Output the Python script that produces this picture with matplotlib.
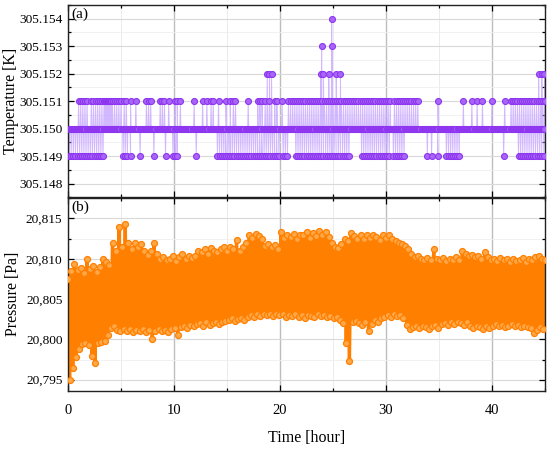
import numpy as np
import matplotlib
matplotlib.use('Agg')
import matplotlib.pyplot as plt
from matplotlib.ticker import MultipleLocator, FuncFormatter, FormatStrFormatter

plt.rcParams['font.family'] = ['Liberation Serif', 'DejaVu Serif']

# ---------------- data ----------------
# (a) temperature: baseline level and excursion times (hours) per level
T_BASE = 305.150
T_BASE_STEP = 0.1          # sampling step of baseline readings [h]
T_END = 45.0

t149 = [0.1, 0.3, 0.5, 0.7, 0.9, 1.1, 1.3, 1.5, 1.7, 1.9, 2.1, 2.3, 2.5, 2.7, 2.9, 3.1, 3.3,
        5.2, 5.4, 5.6, 5.9, 6.8, 8.1, 9.2, 9.9, 10.1, 10.3, 12.1,
        14.1, 14.3, 14.5, 14.7, 14.9, 15.1, 15.3, 15.5, 15.7, 15.9, 16.1, 16.3, 16.5, 16.7,
        16.9, 17.1, 17.3, 17.5, 17.7, 17.9, 18.1, 18.3, 18.5, 18.7, 18.9, 19.1, 19.3, 19.5,
        19.7, 19.9, 20.3, 20.5, 20.7,
        21.5, 21.7, 21.9, 22.1, 22.3, 22.5, 22.7, 22.9, 23.1, 23.3, 23.5, 23.7, 23.9, 24.1,
        24.3, 24.5, 24.7, 24.9, 25.1, 25.3, 25.5, 25.7, 25.9, 26.1, 26.3, 26.5,
        27.7, 27.9, 28.1, 28.3, 28.5, 28.7, 28.9, 29.1, 29.3, 29.5, 29.7, 29.9, 30.1, 30.3,
        30.7, 30.9, 31.1, 31.3, 31.5, 31.7,
        33.9, 34.3, 34.9, 35.7, 35.9, 36.1, 36.3, 36.5, 36.7, 36.9, 41.1,
        42.5, 42.7, 42.9, 43.1, 43.3, 43.5, 43.7, 43.9, 44.1, 44.3, 44.5, 44.7, 44.9]

t151 = [1.0, 1.2, 1.4, 1.6, 1.8, 2.2, 2.4, 2.6, 2.8, 3.0, 3.2, 3.4, 3.5, 3.6, 3.7, 3.8, 3.9,
        4.0, 4.1, 4.2, 4.4, 4.6, 4.8, 5.0, 5.3, 5.5, 5.9, 6.4, 7.4, 7.6, 7.8, 8.7, 8.9, 9.1,
        9.5, 10.1, 10.3, 10.6,
        11.9, 12.7, 13.1, 13.5, 13.7, 14.2, 14.9, 15.3, 15.6, 15.8, 17.0, 17.9, 18.1, 18.3,
        18.6, 19.0, 19.5, 19.7, 20.2,
        20.8, 21.0, 21.2, 21.4, 21.6, 21.8, 22.0, 22.2, 22.4, 22.6, 22.8, 23.0, 23.2, 23.4,
        23.6, 23.8, 24.0, 24.2, 24.4, 24.6, 24.8, 25.0, 25.2, 25.4, 25.6, 25.8, 26.0, 26.2,
        26.4, 26.6, 26.8, 27.0, 27.2, 27.4, 27.6, 27.8, 28.0, 28.2, 28.4, 28.6, 28.8, 29.0,
        29.2, 29.4, 29.6, 29.8, 30.0, 30.2, 30.4,
        30.8, 31.0, 31.2, 31.4, 31.6, 31.8, 32.0, 32.2, 32.4, 32.6, 32.8, 33.0,
        34.9, 37.3, 38.1, 38.6, 39.1, 40.0, 41.2,
        41.8, 42.0, 42.2, 42.4, 42.6, 42.8, 43.0, 43.2, 43.4, 43.6, 43.8, 44.0, 44.2, 44.4,
        44.6, 44.8, 45.0]

t152 = [18.8, 19.0, 19.2, 23.85, 24.1, 24.6, 25.3, 25.7, 44.4, 44.7, 44.95]
t153 = [23.93, 24.93]
t154 = [24.88]

# (b) pressure: alternating upper / lower readings
P_STEP = 0.3   # hours between successive upper readings
p_hi = [20807.5, 20808.5, 20809.3, 20808.6, 20808.9, 20808.2, 20810.0, 20808.7, 20809.1, 20808.4,
        20809.0, 20810.0, 20809.6, 20809.2, 20812.0, 20811.0, 20814.0, 20811.5, 20814.3, 20812.0,
        20811.2, 20812.0, 20811.4, 20811.8, 20811.0, 20810.5, 20811.0, 20812.0, 20810.6, 20810.0,
        20810.2, 20809.8, 20810.0, 20810.4, 20809.7, 20810.2, 20810.6, 20810.0, 20810.4, 20810.1,
        20810.3, 20811.0, 20810.8, 20811.2, 20810.6, 20811.3, 20811.0, 20810.8, 20811.2, 20811.4,
        20811.0, 20811.4, 20811.2, 20812.3, 20811.0, 20811.5, 20812.0, 20813.0, 20812.6, 20813.1,
        20812.8, 20812.4, 20811.6, 20811.8, 20811.4, 20811.7, 20811.2, 20813.3, 20812.6, 20813.0,
        20812.7, 20813.1, 20812.5, 20812.9, 20813.0, 20813.3, 20812.6, 20813.2, 20812.8, 20813.4,
        20813.0, 20813.3, 20812.7, 20812.0, 20811.5, 20811.3, 20811.8, 20812.5, 20812.2, 20813.2,
        20812.8, 20812.5, 20813.0, 20812.4, 20812.9, 20812.6, 20813.0, 20812.7, 20812.3, 20812.9,
        20812.6, 20813.0, 20812.4, 20812.2, 20812.0, 20811.8, 20811.6, 20811.2, 20810.6, 20810.2,
        20810.4, 20810.0, 20809.8, 20810.1, 20809.9, 20811.2, 20810.0, 20809.8, 20810.1, 20809.7,
        20810.0, 20809.8, 20810.2, 20809.9, 20811.0, 20810.6, 20810.4, 20810.5, 20810.2, 20810.4,
        20810.0, 20810.8, 20810.2, 20809.8, 20810.0, 20809.7, 20810.1, 20809.8, 20810.0, 20809.6,
        20810.0, 20809.7, 20809.9, 20810.1, 20809.6, 20810.0, 20809.8, 20810.2, 20810.4, 20810.0,
        20809.8]
p_lo = [20795.0, 20796.5, 20797.8, 20798.8, 20799.4, 20799.6, 20799.3, 20797.9, 20797.1, 20799.6,
        20799.7, 20799.8, 20800.5, 20801.4, 20801.6, 20801.2, 20801.0, 20801.3, 20801.0, 20801.3,
        20800.9, 20801.2, 20801.0, 20801.3, 20800.9, 20801.2, 20800.0, 20801.0, 20801.3, 20801.1,
        20801.2, 20800.9, 20801.3, 20801.4, 20800.6, 20801.5, 20801.7, 20801.4, 20801.8, 20801.6,
        20801.9, 20802.0, 20801.7, 20802.1, 20801.8, 20802.0, 20802.2, 20801.9, 20802.1, 20802.3,
        20802.4, 20802.6, 20802.3, 20802.5, 20802.7, 20802.4, 20802.8, 20803.0, 20802.8, 20803.1,
        20802.9, 20803.2, 20803.0, 20803.1, 20802.9, 20803.2, 20803.0, 20803.1, 20802.8, 20803.0,
        20802.9, 20803.1, 20802.8, 20803.0, 20802.7, 20803.0, 20802.9, 20802.8, 20803.1, 20802.9,
        20803.0, 20802.8, 20802.9, 20802.6, 20802.8, 20802.4, 20802.0, 20799.5, 20797.3, 20802.2,
        20802.3, 20802.0, 20801.8, 20802.2, 20801.0, 20801.9, 20802.4, 20802.1, 20802.6, 20802.8,
        20803.0, 20802.8, 20803.1, 20802.9, 20803.0, 20802.6, 20801.8, 20801.3, 20801.5, 20801.6,
        20801.4, 20801.7, 20801.5, 20801.3, 20801.6, 20801.8, 20801.4, 20801.9, 20802.0, 20801.8,
        20802.1, 20801.9, 20802.2, 20802.0, 20801.8, 20802.1, 20801.6, 20801.4, 20801.7, 20801.5,
        20801.3, 20801.6, 20801.4, 20801.7, 20801.9, 20801.6, 20801.8, 20801.5, 20801.7, 20801.9,
        20801.6, 20801.8, 20801.5, 20801.7, 20801.5, 20801.4, 20800.8, 20801.2, 20801.5, 20801.3]

x_ticks = [0, 10, 20, 30, 40]
t_ticks = [305.148, 305.149, 305.150, 305.151, 305.152, 305.153, 305.154]
p_ticks = [20795, 20800, 20805, 20810, 20815]

# ---------------- build series ----------------
base_t = np.arange(int(round(T_END / T_BASE_STEP))) * T_BASE_STEP + T_BASE_STEP / 2
tt = np.concatenate([base_t, t149, t151, t152, t153, t154])
tv = np.concatenate([np.full(len(base_t), T_BASE),
                     np.full(len(t149), 305.149), np.full(len(t151), 305.151),
                     np.full(len(t152), 305.152), np.full(len(t153), 305.153),
                     np.full(len(t154), 305.154)])
order = np.argsort(tt, kind='stable')
tt, tv = tt[order], tv[order]

ph_t = np.arange(len(p_hi)) * P_STEP
pl_t = np.arange(len(p_lo)) * P_STEP + P_STEP / 2
pt = np.concatenate([ph_t, pl_t])
pv = np.concatenate([p_hi, p_lo])
o2 = np.argsort(pt, kind='stable')
pt, pv = pt[o2], pv[o2]

# ---------------- figure ----------------
W, H = 550, 449
fig = plt.figure(figsize=(W / 100, H / 100), dpi=100)
L, R = 68 / W, 545 / W
ax1 = fig.add_axes([L, 1 - 197.5 / H, R - L, (197.5 - 5) / H])
ax2 = fig.add_axes([L, 1 - 391 / H, R - L, (391 - 197.5) / H])

purple_line = '#C09AFF'
purple_face = '#A866F8'
purple_edge = '#8E35F0'
orange_face = '#FFA848'
orange_edge = '#FF7F00'

ax1.plot(tt, tv, '-', color=purple_line, lw=0.7, alpha=0.7, zorder=2)
ax1.plot(tt, tv, 'o', ms=4.3, mfc=purple_face, mec=purple_edge, mew=0.8, zorder=3)

ax2.plot(pt, pv, '-', color='#FF8000', lw=2.4, zorder=2)
ax2.plot(pt, pv, 'o', ms=4.3, mfc=orange_face, mec=orange_edge, mew=0.9, zorder=3)

for ax in (ax1, ax2):
    ax.set_xlim(0, 45)
    ax.xaxis.set_major_locator(plt.FixedLocator(x_ticks))
    ax.xaxis.set_minor_locator(MultipleLocator(5))
    ax.grid(which='major', axis='x', color='#bdbdbd', lw=1.0, zorder=0)
    ax.grid(which='minor', axis='x', color='#ebebeb', lw=0.7, zorder=0)
    ax.grid(which='major', axis='y', color='#d9d9d9', lw=0.8, zorder=0)
    ax.grid(which='minor', axis='y', color='#efefef', lw=0.6, zorder=0)
    ax.set_axisbelow(True)
    for s in ax.spines.values():
        s.set_linewidth(1.0)
        s.set_color('#222222')
    ax.tick_params(axis='both', which='both', direction='in', left=True, right=True,
                   top=True, bottom=True, width=0.9, labelright=False, labeltop=False)
    ax.tick_params(axis='both', which='major', length=4)
    ax.tick_params(axis='both', which='minor', length=2.3)
    ax.tick_params(axis='y', which='major', labelsize=9.6, pad=4)

# top panel
ax1.set_ylim(305.1475, 305.1545)
ax1.yaxis.set_major_locator(plt.FixedLocator(t_ticks))
ax1.yaxis.set_minor_locator(MultipleLocator(0.0005))
ax1.yaxis.set_major_formatter(FormatStrFormatter('%.3f'))
ax1.tick_params(axis='x', labelbottom=False)
ax1.set_ylabel('Temperature [K]', fontsize=11.5)
ax1.yaxis.set_label_coords(-0.103, 0.5)
ax1.text(0.008, 0.985, '(a)', transform=ax1.transAxes, fontsize=11, va='top', ha='left')

# bottom panel
ax2.set_ylim(20793.6, 20817.6)
ax2.yaxis.set_major_locator(plt.FixedLocator(p_ticks))
ax2.yaxis.set_minor_locator(MultipleLocator(2.5))
ax2.yaxis.set_major_formatter(FuncFormatter(lambda v, p: f'{v:,.0f}'))
ax2.tick_params(axis='x', which='major', labelsize=10.5, pad=9)
ax2.set_xlabel('Time [hour]', fontsize=11.5, labelpad=10)
ax2.set_ylabel('Pressure [Pa]', fontsize=11.5)
ax2.yaxis.set_label_coords(-0.099, 0.5)
ax2.text(0.008, 0.985, '(b)', transform=ax2.transAxes, fontsize=11, va='top', ha='left')

fig.savefig('out.png', dpi=100)
